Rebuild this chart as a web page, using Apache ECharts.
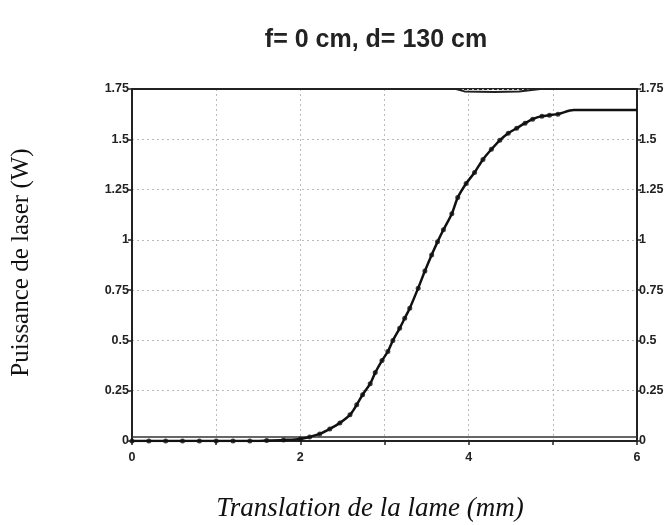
<!DOCTYPE html>
<html>
<head>
<meta charset="utf-8">
<script src="https://cdn.jsdelivr.net/npm/echarts@6/dist/echarts.min.js"></script>
<style>
  html, body { margin: 0; padding: 0; background: #fff; }
  #chart { width: 668px; height: 525px; }
</style>
</head>
<body>
<div id="chart"></div>
<script>
// Texts
const chartTitle = 'f= 0 cm, d= 130 cm';
const xAxisName = 'Translation de la lame (mm)';
const yAxisName = 'Puissance de laser (W)';

// Axis ranges / ticks
const xMin = 0, xMax = 6, xStep = 1;
const xLabelled = [0, 2, 4, 6];
const yMin = 0, yMax = 1.75, yStep = 0.25;

// Measured laser power vs. blade translation
const measX = [0, 0.2, 0.4, 0.6, 0.8, 1.0, 1.2, 1.4, 1.6, 1.8,
  2.0, 2.11, 2.23, 2.35, 2.47, 2.59, 2.67, 2.74, 2.83, 2.89,
  2.97, 3.04, 3.10, 3.18, 3.24, 3.30, 3.40, 3.48, 3.56, 3.63,
  3.70, 3.80, 3.87, 3.97, 4.07, 4.17, 4.27, 4.37, 4.47, 4.57,
  4.67, 4.76, 4.87, 4.96, 5.06];
const measY = [0, 0, 0, 0, 0, 0, 0, 0, 0.002, 0.005,
  0.01, 0.02, 0.035, 0.06, 0.09, 0.13, 0.18, 0.23, 0.285, 0.34,
  0.40, 0.445, 0.50, 0.56, 0.61, 0.66, 0.76, 0.845, 0.925, 0.99,
  1.05, 1.13, 1.21, 1.28, 1.335, 1.40, 1.45, 1.495, 1.53, 1.555,
  1.58, 1.60, 1.615, 1.62, 1.625];

// Fitted curve continues past the last measurement
const tailX = [5.25, 6];
const tailY = [1.645, 1.645];

// Flat reference trace near zero
const baseX = [0, 6];
const baseY = [0.02, 0.02];

// Upper reference trace (saturation level)
const topX = [0, 3.85, 3.95, 4.3, 4.6, 4.85, 6];
const topY = [1.75, 1.75, 1.738, 1.735, 1.738, 1.75, 1.75];

const zip = (xs, ys) => xs.map((x, i) => [x, ys[i]]);

const labelFont = {
  fontFamily: 'Liberation Sans, Arial, sans-serif',
  fontWeight: 'bold',
  fontSize: 12.5,
  color: '#222'
};
const gridLine = { show: true, lineStyle: { color: '#bbb', width: 1, type: [2, 3] } };
const frameLine = { show: true, onZero: false, lineStyle: { color: '#222', width: 2 } };

const chart = echarts.init(document.getElementById('chart'), null, { renderer: 'canvas' });

chart.setOption({
  animation: false,
  backgroundColor: '#fff',
  grid: { left: 132, right: 31, top: 89, bottom: 84, show: true, borderColor: '#222', borderWidth: 2, backgroundColor: 'transparent' },
  xAxis: {
    type: 'value',
    min: xMin, max: xMax, interval: xStep,
    axisLine: frameLine,
    axisTick: { show: true, inside: false, length: 4, lineStyle: { color: '#222', width: 1.5 } },
    axisLabel: Object.assign({}, labelFont, {
      margin: 10,
      formatter: v => (xLabelled.indexOf(v) >= 0 ? String(v) : '')
    }),
    splitLine: gridLine
  },
  yAxis: [
    {
      type: 'value',
      position: 'left',
      min: yMin, max: yMax, interval: yStep,
      axisLine: frameLine,
      axisTick: { show: true, length: 4, lineStyle: { color: '#222', width: 1.5 } },
      axisLabel: Object.assign({}, labelFont, { margin: 3 }),
      splitLine: gridLine
    },
    {
      type: 'value',
      position: 'right',
      min: yMin, max: yMax, interval: yStep,
      axisLine: frameLine,
      axisTick: { show: true, length: 4, lineStyle: { color: '#222', width: 1.5 } },
      axisLabel: Object.assign({}, labelFont, { margin: 2 }),
      splitLine: { show: false }
    }
  ],
  graphic: [
    {
      type: 'text',
      x: 376,
      y: 40,
      style: {
        text: chartTitle,
        font: 'bold 25px "Liberation Sans", Arial, sans-serif',
        fill: '#222',
        align: 'center',
        verticalAlign: 'middle'
      }
    },
    {
      type: 'text',
      left: 9,
      top: 'middle',
      rotation: Math.PI / 2,
      originX: 0, originY: 0,
      style: {
        text: yAxisName,
        font: '25px "Liberation Serif", "Times New Roman", serif',
        fill: '#111'
      }
    },
    {
      type: 'text',
      x: 370,
      y: 509,
      style: {
        text: xAxisName,
        font: 'italic 27px "Liberation Serif", "Times New Roman", serif',
        fill: '#111',
        align: 'center',
        verticalAlign: 'middle'
      }
    }
  ],
  series: [
    {
      name: 'haut',
      type: 'line',
      data: zip(topX, topY),
      showSymbol: false,
      lineStyle: { color: '#222', width: 2 },
      clip: false,
      z: 3
    },
    {
      name: 'base',
      type: 'line',
      data: zip(baseX, baseY),
      showSymbol: false,
      lineStyle: { color: '#333', width: 1.5 },
      z: 3
    },
    {
      name: 'ajustement',
      type: 'line',
      data: zip(measX, measY).concat(zip(tailX, tailY)),
      smooth: 0.3,
      showSymbol: false,
      lineStyle: { color: '#111', width: 2.5 },
      z: 4
    },
    {
      name: 'mesures',
      type: 'scatter',
      data: zip(measX, measY),
      symbol: 'circle',
      symbolSize: 5,
      itemStyle: { color: '#111' },
      clip: false,
      z: 5
    }
  ]
});
</script>
</body>
</html>
